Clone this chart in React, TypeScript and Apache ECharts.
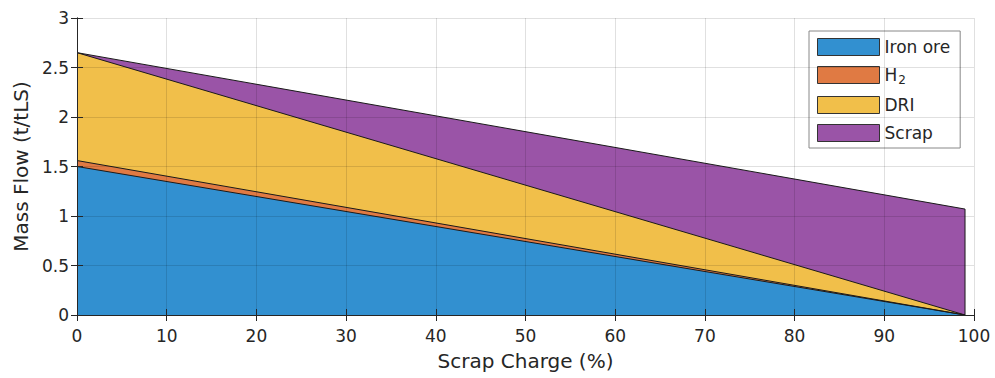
import React, { useEffect, useRef } from "react";
import * as echarts from "echarts";

const scrapCharge = [0, 99];
const ironOre = [1.5, 0];
const hydrogen = [0.06, 0];
const dri = [1.09, 0];
const scrap = [0, 1.07];
const xTicks = [0, 10, 20, 30, 40, 50, 60, 70, 80, 90, 100];
const yTicks = [0, 0.5, 1, 1.5, 2, 2.5, 3];

const seriesNames = ["Iron ore", "H2", "DRI", "Scrap"];
const colors = ["#3290d0", "#e07a43", "#f1bf4a", "#9a54a7"];

const FONT = "'DejaVu Sans', Arial, Helvetica, sans-serif";
const TXT = "#262626";

export default function App() {
  const ref = useRef<HTMLDivElement>(null);
  useEffect(() => {
    if (!ref.current) return;
    const chart = echarts.init(ref.current, undefined, { renderer: "svg" });
    const values = [ironOre, hydrogen, dri, scrap];
    // cumulative tops of each layer (stacked from the bottom)
    const cumulative = values.map((_, k) =>
      scrapCharge.map((_, i) => values.slice(0, k + 1).reduce((s, v) => s + v[i], 0))
    );
    const last = scrapCharge.length - 1;
    const axisCommon = {
      min: 0,
      axisLine: { show: true, lineStyle: { color: TXT, width: 1 } },
      axisTick: { show: true, inside: true, length: 6, lineStyle: { color: TXT } },
    };
    chart.setOption({
      animation: false,
      textStyle: { fontFamily: FONT },
      grid: { left: 77, right: 21, top: 18, bottom: 63, containLabel: false },
      legend: {
        orient: "vertical",
        left: 809,
        top: 31,
        padding: [7, 10, 6, 8],
        backgroundColor: "#ffffff",
        borderColor: "#888888",
        borderWidth: 1,
        borderRadius: 0,
        icon: "rect",
        itemWidth: 62,
        itemHeight: 17,
        itemGap: 10,
        data: seriesNames,
        itemStyle: { borderColor: "#333", borderWidth: 1 },
        formatter: (name: string) => (name === "H2" ? "H{sub|2}" : name),
        textStyle: {
          fontSize: 17,
          color: TXT,
          fontFamily: FONT,
          rich: {
            sub: { fontSize: 12, verticalAlign: "bottom", padding: [10, 0, 0, 1], color: TXT, fontFamily: FONT },
          },
        },
      },
      xAxis: [
        {
          ...axisCommon,
          type: "value",
          max: 100,
          interval: 10,
          position: "bottom",
          z: 5,
          name: "Scrap Charge (%)",
          nameLocation: "middle",
          nameGap: 36,
          nameTextStyle: { fontSize: 20, color: TXT, fontFamily: FONT },
          axisLabel: { fontSize: 17, color: TXT, margin: 12, fontFamily: FONT, customValues: xTicks },
          splitLine: { show: true, lineStyle: { color: "rgba(0,0,0,0.12)", width: 1 } },
        },
        {
          ...axisCommon,
          type: "value",
          max: 100,
          interval: 10,
          position: "top",
          z: 5,
          axisLabel: { show: false },
          splitLine: { show: false },
        },
      ],
      yAxis: [
        {
          ...axisCommon,
          type: "value",
          max: 3,
          interval: 0.5,
          position: "left",
          z: 5,
          name: "Mass Flow (t/tLS)",
          nameLocation: "middle",
          nameGap: 46,
          nameTextStyle: { fontSize: 20, color: TXT, fontFamily: FONT },
          axisLabel: { fontSize: 17, color: TXT, margin: 8, fontFamily: FONT, customValues: yTicks },
          splitLine: { show: true, lineStyle: { color: "rgba(0,0,0,0.12)", width: 1 } },
        },
        {
          ...axisCommon,
          type: "value",
          max: 3,
          interval: 0.5,
          position: "right",
          z: 5,
          axisLabel: { show: false },
          splitLine: { show: false },
        },
      ],
      series: [
        ...seriesNames.map((name, k) => ({
          name,
          type: "line",
          symbol: "none",
          z: 2,
          data: scrapCharge.map((x, i) => [x, cumulative[k][i]]),
          lineStyle: { color: "#1a1a1a", width: 1 },
          itemStyle: { color: colors[k], borderColor: "#333" },
          areaStyle: { color: colors[k], opacity: 1, origin: 0 },
        })).reverse(),
        {
          name: "edge",
          type: "line",
          symbol: "none",
          z: 3,
          silent: true,
          data: [
            [scrapCharge[last], 0],
            [scrapCharge[last], cumulative[3][last]],
          ],
          lineStyle: { color: "#1a1a1a", width: 1 },
        },
      ],
    });
    return () => chart.dispose();
  }, []);
  return (
    <div
      ref={ref}
      style={{ position: "fixed", left: 0, top: 0, width: 995, height: 378, background: "#fff" }}
    />
  );
}
